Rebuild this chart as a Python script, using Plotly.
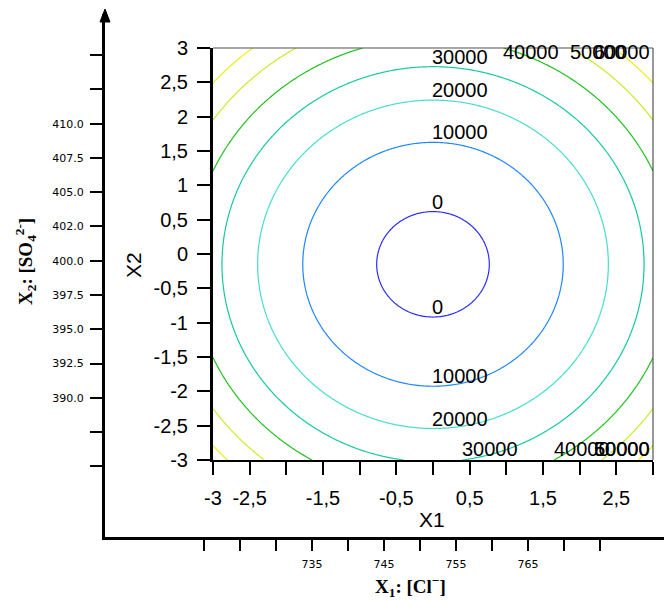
import numpy as np
import plotly.graph_objects as go

# ---- data ----
# quadratic response-surface model  Y = b0 + b1*X1 + b2*X2 + b11*X1^2 + b22*X2^2
b0 = -2212.0
b1 = 0.0
b2 = 1170.0
b11 = 3900.0
b22 = 3900.0

levels = [0, 10000, 20000, 30000, 40000, 50000, 60000]
level_colors = ["#2a2cff", "#1f86ff", "#45ddd2", "#12c9a2", "#1cc21c", "#c4ee22", "#eeee10"]

x1_label_ticks = [-3, -2.5, -1.5, -0.5, 0.5, 1.5, 2.5]
x1_label_text = ["-3", "-2,5", "-1,5", "-0,5", "0,5", "1,5", "2,5"]
x1_minor_ticks = [-2, -1, 0, 1, 2, 3]
x2_ticks = [-3, -2.5, -2, -1.5, -1, -0.5, 0, 0.5, 1, 1.5, 2, 2.5, 3]
x2_ticktext = ["-3", "-2,5", "-2", "-1,5", "-1", "-0,5", "0", "0,5", "1", "1,5", "2", "2,5", "3"]

cl_label_ticks = [735, 745, 755, 765]
cl_label_text = ["735", "745", "755", "765"]
cl_minor_ticks = [720, 725, 730, 740, 750, 760, 770, 775]
so4_label_ticks = [390, 392.5, 395, 397.5, 400, 402.5, 405, 407.5, 410]
so4_label_text = ["390.0", "392.5", "395.0", "397.5", "400.0", "402.0", "405.0", "407.5", "410.0"]
so4_minor_ticks = [385, 387.5, 412.5, 415]

# ---- surface ----
g = np.linspace(-3, 3, 301)
X, Y = np.meshgrid(g, g)
Z = b0 + b1 * X + b2 * Y + b11 * X ** 2 + b22 * Y ** 2

W, H = 664, 601
def px(x):
    return x / W
def py(y):
    return 1 - y / H

n = len(levels) - 1
cscale = [[i / n, c] for i, c in enumerate(level_colors)]

fig = go.Figure()
fig.add_trace(go.Contour(
    x=g, y=g, z=Z,
    zmin=levels[0], zmax=levels[-1],
    contours=dict(start=levels[0], end=levels[-1], size=levels[1] - levels[0],
                  coloring="lines", showlabels=False),
    line=dict(width=1.2),
    colorscale=cscale, showscale=False, hoverinfo="skip",
))
fig.add_trace(go.Scatter(x=[], y=[], xaxis="x2", yaxis="y2", showlegend=False))

# contour labels computed from the model
xc = -b1 / (2 * b11)
yc = -b2 / (2 * b22)
zc = b0 - b1 ** 2 / (4 * b11) - b2 ** 2 / (4 * b22)
lab_font = dict(family="Liberation Sans, Arial", size=20, color="black")
ann = []
for L in levels:
    r = np.sqrt((L - zc) / b11)
    for sgn in (1, -1):
        yy = yc + sgn * r
        if -3 <= yy <= 3:
            ann.append(dict(x=xc, y=yy, xref="x", yref="y", text=str(L), showarrow=False,
                            xanchor="left", yanchor="bottom", font=lab_font, xshift=-3, yshift=-3))
        else:
            edge = 3 if sgn > 0 else -3
            d = r ** 2 - (edge - yc) ** 2
            if d > 0:
                xx = min(xc + np.sqrt(d), 2.2)
                ann.append(dict(x=xx, y=edge, xref="x", yref="y", text=str(L), showarrow=False,
                                xanchor="left", yanchor="middle" if sgn > 0 else "bottom",
                                font=lab_font, xshift=-2, yshift=-4 if sgn > 0 else -2))

title_serif = dict(family="Liberation Serif, Times New Roman", size=19, color="black")
sans_title = dict(family="Liberation Sans, Arial", size=21, color="black")
ann += [
    dict(x=px(432), y=py(519), xref="paper", yref="paper", text="X1", showarrow=False,
         xanchor="center", yanchor="middle", font=sans_title),
    dict(x=px(133), y=py(265), xref="paper", yref="paper", text="X2", showarrow=False, textangle=-90,
         xanchor="center", yanchor="middle", font=sans_title),
    dict(x=px(410), y=py(586), xref="paper", yref="paper",
         text="<b>X<sub>1</sub>: [Cl<sup>−</sup>]</b>", showarrow=False,
         xanchor="center", yanchor="middle", font=title_serif),
    dict(x=px(25), y=py(262), xref="paper", yref="paper",
         text="<b>X<sub>2</sub>: [SO<sub>4</sub><sup>2-</sup>]</b>", showarrow=False,
         xanchor="center", yanchor="middle", textangle=-90, font=title_serif),
]

tick_font = dict(family="Liberation Sans, Arial", size=20, color="black")
small_font = dict(family="DejaVu Sans", size=11, color="black")

fig.update_layout(
    width=W, height=H, autosize=False,
    margin=dict(l=0, r=0, t=0, b=0, pad=0, autoexpand=False),
    paper_bgcolor="white", plot_bgcolor="rgba(0,0,0,0)",
    showlegend=False,
    xaxis=dict(domain=[px(213), px(653)], range=[-3, 3], anchor="y", automargin=False,
               tickmode="array", tickvals=x1_label_ticks, ticktext=x1_label_text,
               ticks="outside", ticklen=13, tickwidth=1.5, tickcolor="black",
               minor=dict(tickmode="array", tickvals=x1_minor_ticks, ticks="outside",
                          ticklen=13, tickwidth=1.5, tickcolor="black", showgrid=False),
               showline=True, linewidth=2, linecolor="black",
               showgrid=False, zeroline=False, tickfont=tick_font, ticklabelstandoff=6),
    yaxis=dict(domain=[py(460), py(48)], range=[-3, 3], anchor="x", automargin=False,
               tickmode="array", tickvals=x2_ticks, ticktext=x2_ticktext,
               ticks="outside", ticklen=13, tickwidth=1.5, tickcolor="black",
               showline=True, linewidth=3, linecolor="black",
               showgrid=False, zeroline=False, tickfont=tick_font, ticklabelstandoff=5),
    xaxis2=dict(domain=[px(105), 1], range=[706.25, 783.9], anchor="y2", automargin=False,
                tickmode="array", tickvals=cl_label_ticks, ticktext=cl_label_text,
                ticks="outside", ticklen=11, tickwidth=1.5, tickcolor="black",
                minor=dict(tickmode="array", tickvals=cl_minor_ticks, ticks="outside",
                           ticklen=11, tickwidth=1.5, tickcolor="black", showgrid=False),
                showline=True, linewidth=3, linecolor="black",
                showgrid=False, zeroline=False, tickfont=small_font, ticklabelstandoff=4),
    yaxis2=dict(domain=[py(537), py(14)], range=[379.85, 418.0], anchor="x2", automargin=False,
                tickmode="array", tickvals=so4_label_ticks, ticktext=so4_label_text,
                ticks="outside", ticklen=12, tickwidth=1.5, tickcolor="black",
                minor=dict(tickmode="array", tickvals=so4_minor_ticks, ticks="outside",
                           ticklen=12, tickwidth=1.5, tickcolor="black", showgrid=False),
                showline=True, linewidth=3, linecolor="black",
                showgrid=False, zeroline=False, tickfont=small_font, ticklabelstandoff=4),
    annotations=ann,
    shapes=[
        dict(type="line", xref="x domain", yref="y domain", x0=0, x1=1, y0=1, y1=1,
             line=dict(color="#555555", width=1)),
        dict(type="line", xref="x domain", yref="y domain", x0=1, x1=1, y0=0, y1=1,
             line=dict(color="#333333", width=1)),
        dict(type="path", xref="paper", yref="paper",
             path=f"M {px(100)} {py(22)} L {px(105)} {py(9)} L {px(110)} {py(22)} Z",
             fillcolor="black", line=dict(color="black", width=1)),
    ],
)

fig.write_html("out.html")
